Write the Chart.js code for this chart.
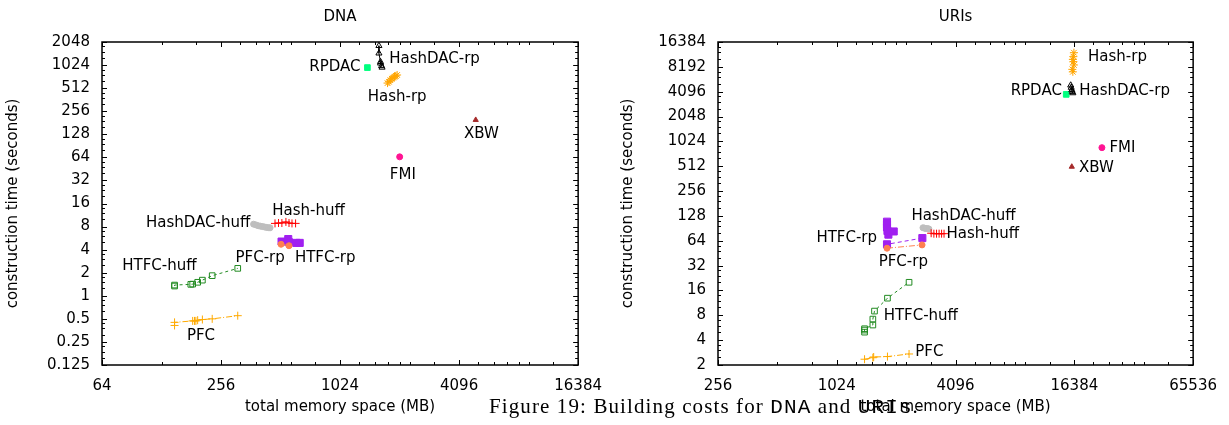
<!DOCTYPE html>
<html>
<head>
<meta charset="utf-8">
<title>Building costs for DNA and URIs</title>
<script src="https://cdn.jsdelivr.net/npm/chart.js@4.4.0/dist/chart.umd.min.js"></script>
<style>
  html, body { margin: 0; padding: 0; background: #fff; }
  #wrap { position: relative; width: 1229px; height: 425px; overflow: hidden; }
  canvas { position: absolute; top: 0; }
  #graficoDna { left: 0; }
  #graficoUris { left: 614px; }
  #caption {
    position: absolute; left: 489px; top: 396px;
    font-family: "Liberation Serif", serif; font-size: 21px; line-height: 20px;
    color: #000; white-space: nowrap;
  }
  #caption .tt { font-family: "Liberation Mono", monospace; }
</style>
</head>
<body>
<div id="wrap">
  <canvas id="graficoDna" width="614" height="425"></canvas>
  <canvas id="graficoUris" width="615" height="425"></canvas>
  <div id="caption">Figure 19: Building costs for <span class="tt">DNA</span> and <span class="tt">URIs</span>.</div>
</div>
<script>
// ---- DNA (x: total memory space MB, y: construction time s) ----
const dnaXTicks = [64, 256, 1024, 4096, 16384];
const dnaYTicks = [0.125, 0.25, 0.5, 1, 2, 4, 8, 16, 32, 64, 128, 256, 512, 1024, 2048];

const dnaHtfcHuffX = [149, 149, 180, 184, 195, 206, 231, 311];
const dnaHtfcHuffY = [1.34, 1.38, 1.41, 1.42, 1.5, 1.6, 1.83, 2.28];
const dnaPfcX = [149, 149, 184, 188, 191, 195, 206, 231, 311];
const dnaPfcY = [0.41, 0.45, 0.47, 0.47, 0.47, 0.48, 0.49, 0.5, 0.55];
const dnaPfcRpX = [515, 565];
const dnaPfcRpY = [4.7, 4.5];
const dnaHtfcRpX = [518, 560, 565, 615, 640];
const dnaHtfcRpY = [5.1, 5.5, 5.0, 4.9, 4.9];
const dnaHashHuffX = [480, 500, 520, 545, 565, 585, 610];
const dnaHashHuffY = [8.8, 8.9, 8.9, 9.2, 8.9, 8.8, 8.8];
const dnaHashDacHuffX = [374, 385, 395, 405, 415, 425, 435, 445, 453];
const dnaHashDacHuffY = [8.6, 8.4, 8.2, 8.1, 8.0, 7.9, 7.8, 7.75, 7.7];
const dnaHashRpX = [1780, 1810, 1840, 1870, 1900, 1930, 1960, 1990];
const dnaHashRpY = [596, 620, 650, 680, 700, 720, 740, 760];
const dnaHashDacRpX = [1610, 1610, 1640, 1640, 1660, 1670];
const dnaHashDacRpY = [1830, 1460, 1130, 1080, 1000, 955];
const dnaRpdacX = [1408];
const dnaRpdacY = [950];
const dnaFmiX = [2050];
const dnaFmiY = [65];
const dnaXbwX = [4970];
const dnaXbwY = [197];

// ---- URIs ----
const urisXTicks = [256, 1024, 4096, 16384, 65536];
const urisYTicks = [2, 4, 8, 16, 32, 64, 128, 256, 512, 1024, 2048, 4096, 8192, 16384];

const urisHtfcHuffX = [1416, 1416, 1416, 1560, 1560, 1590, 1850, 2380];
const urisHtfcHuffY = [5.0, 5.3, 5.5, 6.1, 7.2, 9.0, 12.9, 20.1];
const urisPfcX = [1416, 1560, 1575, 1850, 2380];
const urisPfcY = [2.35, 2.45, 2.5, 2.53, 2.72];
const urisPfcRpX = [1840, 2770];
const urisPfcRpY = [52, 57];
const urisHtfcRpX = [2780, 1840, 1870, 1850, 1990, 1840, 1840, 1840];
const urisHtfcRpY = [69, 58, 76, 84, 83, 93, 101, 109];
const urisHashHuffX = [3080, 3180, 3280, 3380, 3480, 3580];
const urisHashHuffY = [79, 78, 78, 78, 78, 78];
const urisHashDacHuffX = [2800, 2850, 2900, 2950, 3000];
const urisHashDacHuffY = [92, 91, 90, 90, 89];
const urisHashRpX = [16300, 16200, 16100, 16200, 16300, 16000, 16100];
const urisHashRpY = [12160, 10890, 10090, 9470, 8630, 7640, 7130];
const urisHashDacRpX = [15700, 15800, 15900, 16000, 16100];
const urisHashDacRpY = [4900, 4600, 4300, 4100, 3950];
const urisRpdacX = [14900];
const urisRpdacY = [3800];
const urisFmiX = [22600];
const urisFmiY = [860];
const urisXbwX = [15900];
const urisXbwY = [505];

// etiquetas junto a los puntos (texto, x, y en unidades de datos, alineación)
const dnaLabels = [
  ['RPDAC', 1299, 976, 'right'],
  ['HashDAC-rp', 1814, 1218, 'left'],
  ['Hash-rp', 1990, 396, 'center'],
  ['XBW', 5305, 128, 'center'],
  ['FMI', 2127, 37.7, 'center'],
  ['HashDAC-huff', 360, 8.8, 'right'],
  ['Hash-huff', 465, 12.9, 'left'],
  ['PFC-rp', 303, 3.14, 'left'],
  ['HTFC-rp', 605, 3.14, 'left'],
  ['HTFC-huff', 81, 2.44, 'left'],
  ['PFC', 172, 0.30, 'left']
];
const urisLabels = [
  ['Hash-rp', 19230, 10770, 'left'],
  ['RPDAC', 14160, 4180, 'right'],
  ['HashDAC-rp', 17350, 4180, 'left'],
  ['FMI', 24660, 859, 'left'],
  ['XBW', 17300, 491, 'left'],
  ['HTFC-rp', 1638, 69.8, 'right'],
  ['HashDAC-huff', 2446, 129, 'left'],
  ['Hash-huff', 3682, 76.7, 'left'],
  ['PFC-rp', 1670, 34.8, 'left'],
  ['HTFC-huff', 1769, 7.86, 'left'],
  ['PFC', 2560, 2.9, 'left']
];

const Estilos = {
  htfcHuff:    { color: 'rgb(34, 139, 34)',  shape: 'rect',     r: 4,   fill: false, dash: [3, 3] },
  pfc:         { color: 'rgb(255, 170, 0)',  shape: 'cross',    r: 4,   fill: false, dash: [6, 2, 1, 2] },
  pfcRp:       { color: 'rgb(255, 127, 80)', shape: 'circle',   r: 3,   fill: true,  dash: [6, 2, 1, 2] },
  htfcRp:      { color: 'rgb(160, 32, 240)', shape: 'rect',     r: 5,   fill: true,  dash: [4, 3] },
  hashHuff:    { color: 'rgb(255, 0, 0)',    shape: 'cross',    r: 4,   fill: false, dash: [] },
  hashDacHuff: { color: 'rgb(190, 190, 190)',shape: 'circle',   r: 3,   fill: true,  dash: [] },
  hashRp:      { color: 'rgb(255, 165, 0)',  shape: 'star',     r: 4,   fill: false, dash: [] },
  hashDacRp:   { color: 'rgb(0, 0, 0)',      shape: 'triangle', r: 3.5, fill: false, dash: [] },
  rpdac:       { color: 'rgb(0, 255, 127)',  shape: 'rect',     r: 4,   fill: true,  dash: [] },
  fmi:         { color: 'rgb(255, 20, 147)', shape: 'circle',   r: 3,   fill: true,  dash: [] },
  xbw:         { color: 'rgb(165, 42, 42)',  shape: 'triangle', r: 3,   fill: true,  dash: [] }
};

const FUENTE = { family: '"DejaVu Sans", sans-serif', size: 15, weight: 'normal' };

function serie(xs, ys, st) {
  return {
    data: xs.map((x, i) => ({ x: x, y: ys[i] })),
    showLine: true,
    borderColor: st.color,
    borderWidth: 1,
    borderDash: st.dash,
    pointStyle: st.shape,
    pointRadius: st.r,
    pointBorderWidth: 1,
    pointBorderColor: st.color,
    pointBackgroundColor: st.fill ? st.color : 'rgba(255, 255, 255, 0)',
    tension: 0
  };
}

// marcas menores como las de gnuplot
function menoresX(majors) {
  const out = [];
  for (let i = 0; i < majors.length - 1; i++) {
    const f = i === 0 ? [2, 3] : [1.25, 1.5, 1.75, 2, 2.25, 3];
    f.forEach(k => out.push(majors[i] * k));
  }
  return out;
}
function menoresY(majors) {
  const out = [];
  for (let i = 0; i < majors.length - 1; i++) {
    [1.25, 1.5, 1.75].forEach(k => out.push(majors[i] * k));
  }
  return out;
}

// marco completo con marcas hacia dentro en los cuatro lados
const marcoPlugin = {
  id: 'marco',
  afterDatasetsDraw(chart, args, opts) {
    const { ctx, chartArea: a, scales: { x, y } } = chart;
    ctx.save();
    ctx.strokeStyle = '#000';
    ctx.lineWidth = 1;
    ctx.beginPath();
    const marcaX = (v, len) => {
      const px = Math.round(x.getPixelForValue(v)) + 0.5;
      ctx.moveTo(px, a.bottom); ctx.lineTo(px, a.bottom - len);
      ctx.moveTo(px, a.top); ctx.lineTo(px, a.top + len);
    };
    const marcaY = (v, len) => {
      const py = Math.round(y.getPixelForValue(v)) + 0.5;
      ctx.moveTo(a.left, py); ctx.lineTo(a.left + len, py);
      ctx.moveTo(a.right, py); ctx.lineTo(a.right - len, py);
    };
    opts.xMajor.forEach(v => marcaX(v, 5));
    opts.xMinor.forEach(v => marcaX(v, 3));
    opts.yMajor.forEach(v => marcaY(v, 5));
    opts.yMinor.forEach(v => marcaY(v, 3));
    ctx.stroke();
    ctx.lineWidth = 1.5;
    ctx.strokeRect(a.left, a.top, a.right - a.left, a.bottom - a.top);
    ctx.restore();
  }
};

const etiquetasPlugin = {
  id: 'etiquetas',
  afterDatasetsDraw(chart, args, opts) {
    const { ctx, scales: { x, y } } = chart;
    ctx.save();
    ctx.font = '15px "DejaVu Sans", sans-serif';
    ctx.fillStyle = '#000';
    ctx.textBaseline = 'middle';
    opts.items.forEach(([txt, vx, vy, align]) => {
      ctx.textAlign = align;
      ctx.fillText(txt, x.getPixelForValue(vx), y.getPixelForValue(vy));
    });
    ctx.restore();
  }
};

function crearGrafico(id, cfg) {
  const config = {
    type: 'scatter',
    data: { datasets: cfg.datasets },
    options: {
      responsive: false,
      animation: false,
      layout: { padding: { left: 0, right: cfg.padRight, top: 0, bottom: 0 } },
      plugins: {
        legend: { display: false },
        tooltip: { enabled: false },
        title: {
          display: true, text: cfg.titulo, color: '#000', font: FUENTE,
          fullSize: false, padding: { top: 8, bottom: 16 }
        },
        marco: {
          xMajor: cfg.xTicks, xMinor: menoresX(cfg.xTicks),
          yMajor: cfg.yTicks, yMinor: menoresY(cfg.yTicks)
        },
        etiquetas: { items: cfg.labels }
      },
      scales: {
        x: {
          type: 'logarithmic', min: cfg.xTicks[0], max: cfg.xTicks[cfg.xTicks.length - 1],
          afterBuildTicks: s => { s.ticks = cfg.xTicks.map(v => ({ value: v })); },
          afterFit: s => { s.height = 60; },
          grid: { display: false, drawTicks: false },
          border: { display: false },
          ticks: { color: '#000', font: FUENTE, padding: 12, autoSkip: false, maxRotation: 0, callback: v => String(v) },
          title: { display: true, text: 'total memory space (MB)', color: '#000', font: FUENTE, padding: { top: 0, bottom: 9 } }
        },
        y: {
          type: 'logarithmic', min: cfg.yTicks[0], max: cfg.yTicks[cfg.yTicks.length - 1],
          afterBuildTicks: s => { s.ticks = cfg.yTicks.map(v => ({ value: v })); },
          afterFit: s => { s.width = cfg.ejeIzq; },
          grid: { display: false, drawTicks: false },
          border: { display: false },
          ticks: { color: '#000', font: FUENTE, padding: 12, autoSkip: false, callback: v => String(v) },
          title: { display: true, text: 'construction time (seconds)', color: '#000', font: FUENTE, padding: { top: cfg.tituloY, bottom: 0 } }
        }
      }
    },
    plugins: [marcoPlugin, etiquetasPlugin]
  };
  const ctx = document.getElementById(id).getContext('2d');
  return new Chart(ctx, config);
}

window.addEventListener('DOMContentLoaded', () => {
  const E = Estilos;
  crearGrafico('graficoDna', {
    titulo: 'DNA', xTicks: dnaXTicks, yTicks: dnaYTicks, labels: dnaLabels,
    padRight: 31, ejeIzq: 102, tituloY: 4,
    datasets: [
      serie(dnaHtfcHuffX, dnaHtfcHuffY, E.htfcHuff),
      serie(dnaPfcX, dnaPfcY, E.pfc),
      serie(dnaPfcRpX, dnaPfcRpY, E.pfcRp),
      serie(dnaHtfcRpX, dnaHtfcRpY, E.htfcRp),
      serie(dnaHashHuffX, dnaHashHuffY, E.hashHuff),
      serie(dnaHashDacHuffX, dnaHashDacHuffY, E.hashDacHuff),
      serie(dnaHashRpX, dnaHashRpY, E.hashRp),
      serie(dnaHashDacRpX, dnaHashDacRpY, E.hashDacRp),
      serie(dnaRpdacX, dnaRpdacY, E.rpdac),
      serie(dnaFmiX, dnaFmiY, E.fmi),
      serie(dnaXbwX, dnaXbwY, E.xbw)
    ]
  });
  crearGrafico('graficoUris', {
    titulo: 'URIs', xTicks: urisXTicks, yTicks: urisYTicks, labels: urisLabels,
    padRight: 27, ejeIzq: 104, tituloY: 5,
    datasets: [
      serie(urisHtfcHuffX, urisHtfcHuffY, E.htfcHuff),
      serie(urisPfcX, urisPfcY, E.pfc),
      serie(urisPfcRpX, urisPfcRpY, E.pfcRp),
      serie(urisHtfcRpX, urisHtfcRpY, E.htfcRp),
      serie(urisHashHuffX, urisHashHuffY, E.hashHuff),
      serie(urisHashDacHuffX, urisHashDacHuffY, E.hashDacHuff),
      serie(urisHashRpX, urisHashRpY, E.hashRp),
      serie(urisHashDacRpX, urisHashDacRpY, E.hashDacRp),
      serie(urisRpdacX, urisRpdacY, E.rpdac),
      serie(urisFmiX, urisFmiY, E.fmi),
      serie(urisXbwX, urisXbwY, E.xbw)
    ]
  });

  // ajustar el espaciado del pie para que ocupe el mismo ancho
  const cap = document.getElementById('caption');
  const w = cap.getBoundingClientRect().width;
  cap.style.letterSpacing = ((430 - w) / cap.textContent.length) + 'px';
});
</script>
</body>
</html>
